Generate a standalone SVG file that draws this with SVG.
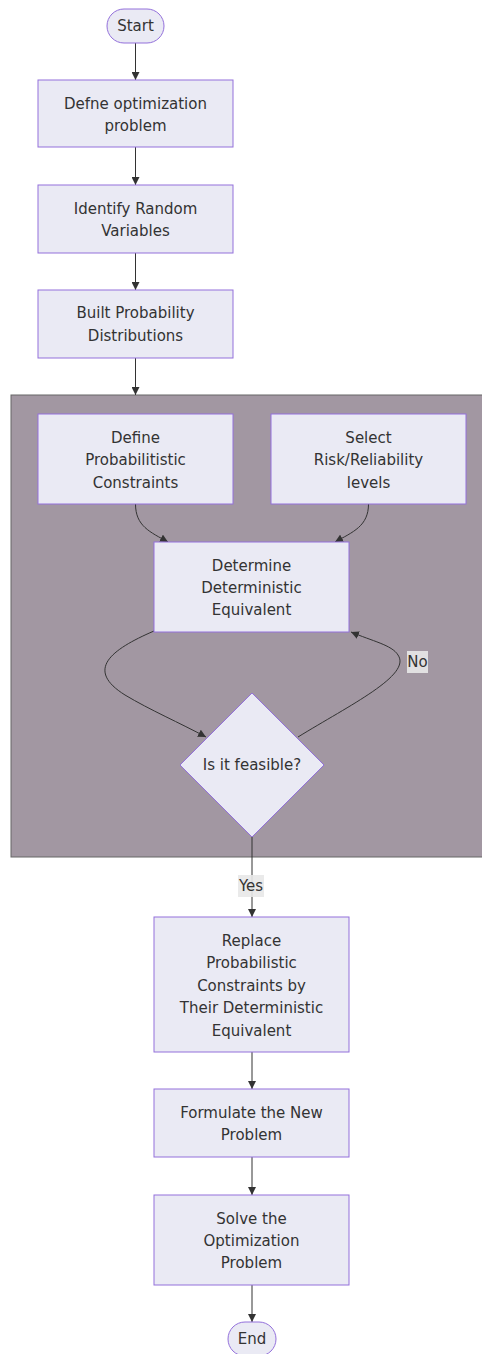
<svg xmlns="http://www.w3.org/2000/svg" width="482" height="1354" viewBox="0 0 482 1354">
<defs>
<style>
.node{fill:#eaeaf4;stroke:#9370db;stroke-width:1}
.t{font-family:"DejaVu Sans",Verdana,sans-serif;font-size:15px;fill:#333;text-anchor:middle;dominant-baseline:central}
.e{fill:none;stroke:#333;stroke-width:1}
.lbl{fill:#e8e8e8;opacity:0.9}
</style>
<marker id="ah" viewBox="0 0 10 10" refX="10" refY="5" markerWidth="8" markerHeight="8" markerUnits="userSpaceOnUse" orient="auto">
<path d="M0,0 L10,5 L0,10 z" fill="#333"/>
</marker>
</defs>
<rect id="cluster" x="11" y="395" width="472" height="462" fill="#a297a2" stroke="#666" stroke-width="1"/>
<g id="connectors">
<path class="e" d="M135.5,43 L135.5,80" marker-end="url(#ah)"/>
<path class="e" d="M135.5,147 L135.5,185" marker-end="url(#ah)"/>
<path class="e" d="M135.5,253 L135.5,290" marker-end="url(#ah)"/>
<path class="e" d="M135.5,358 L135.5,395" marker-end="url(#ah)"/>
<path class="e" d="M135.5,504 C135.5,526 150,532 168,542" marker-end="url(#ah)"/>
<path class="e" d="M368.5,504 C368.5,526 353,532 335,542" marker-end="url(#ah)"/>
<path class="e" d="M154,631 C110,650 85,670 125,695 C150,710 180,723 206,737" marker-end="url(#ah)"/>
<path class="e" d="M298,737 C350,705 412,675 398,655 C392,645 372,641 351,632" marker-end="url(#ah)"/>
<path class="e" d="M252,837 L252,917" marker-end="url(#ah)"/>
<path class="e" d="M252,1052 L252,1089" marker-end="url(#ah)"/>
<path class="e" d="M252,1157 L252,1195" marker-end="url(#ah)"/>
<path class="e" d="M252,1285 L252,1322" marker-end="url(#ah)"/>
<rect class="lbl" x="407" y="651" width="21" height="22"/>
<text class="t" x="417.5" y="662">No</text>
<rect class="lbl" x="238" y="875" width="26" height="22"/>
<text class="t" x="251" y="886">Yes</text>
</g>
<g id="start"><rect class="node" x="107" y="9" width="57" height="34" rx="17" ry="17"/><text class="t" x="135.5" y="26">Start</text></g>
<g id="define"><rect class="node" x="38" y="80" width="195" height="67"/><text class="t" x="135.5" y="104">Defne optimization</text><text class="t" x="135.5" y="126">problem</text></g>
<g id="identify"><rect class="node" x="38" y="185" width="195" height="68"/><text class="t" x="135.5" y="209">Identify Random</text><text class="t" x="135.5" y="231">Variables</text></g>
<g id="built"><rect class="node" x="38" y="290" width="195" height="68"/><text class="t" x="135.5" y="313">Built Probability</text><text class="t" x="135.5" y="336">Distributions</text></g>
<g id="defprob"><rect class="node" x="38" y="414" width="195" height="90"/><text class="t" x="135.5" y="438">Define</text><text class="t" x="135.5" y="460">Probabilitistic</text><text class="t" x="135.5" y="483">Constraints</text></g>
<g id="select"><rect class="node" x="271" y="414" width="195" height="90"/><text class="t" x="368.5" y="438">Select</text><text class="t" x="368.5" y="460">Risk/Reliability</text><text class="t" x="368.5" y="483">levels</text></g>
<g id="determine"><rect class="node" x="154" y="542" width="195" height="90"/><text class="t" x="251.5" y="566">Determine</text><text class="t" x="251.5" y="588">Deterministic</text><text class="t" x="251.5" y="610">Equivalent</text></g>
<g id="feasible"><polygon class="node" points="252,693 324,765 252,837 180,765"/><text class="t" x="252" y="765">Is it feasible?</text></g>
<g id="replace"><rect class="node" x="154" y="917" width="195" height="135"/><text class="t" x="251.5" y="941">Replace</text><text class="t" x="251.5" y="963">Probabilistic</text><text class="t" x="251.5" y="986">Constraints by</text><text class="t" x="251.5" y="1008">Their Deterministic</text><text class="t" x="251.5" y="1031">Equivalent</text></g>
<g id="formulate"><rect class="node" x="154" y="1089" width="195" height="68"/><text class="t" x="251.5" y="1113">Formulate the New</text><text class="t" x="251.5" y="1135">Problem</text></g>
<g id="solve"><rect class="node" x="154" y="1195" width="195" height="90"/><text class="t" x="251.5" y="1219">Solve the</text><text class="t" x="251.5" y="1241">Optimization</text><text class="t" x="251.5" y="1263">Problem</text></g>
<g id="end"><rect class="node" x="228" y="1322" width="48" height="34" rx="17" ry="17"/><text class="t" x="252" y="1339">End</text></g>
</svg>
